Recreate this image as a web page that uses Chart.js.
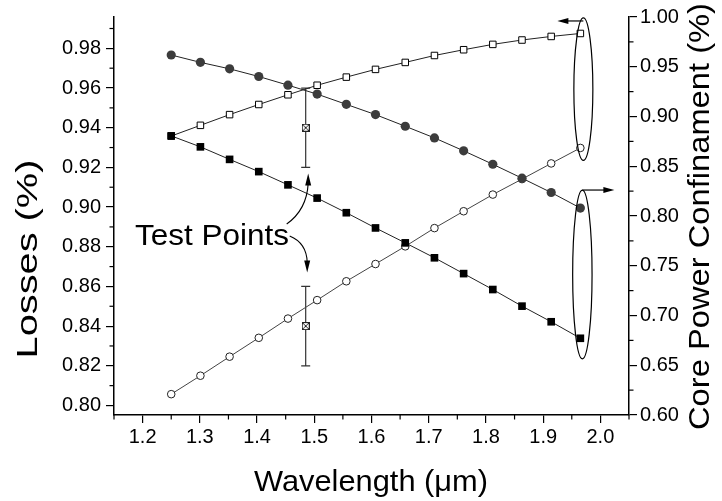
<!DOCTYPE html>
<html><head><meta charset="utf-8">
<script src="https://cdn.jsdelivr.net/npm/chart.js@4/dist/chart.umd.min.js"></script>
<style>html,body{margin:0;padding:0;background:#fff;}canvas{display:block}</style>
</head><body>
<canvas id="c" width="722" height="501"></canvas>
<script>
// ---- data ----
const wavelength = [1.250, 1.301, 1.352, 1.403, 1.454, 1.505, 1.556, 1.607, 1.659, 1.710, 1.761, 1.812, 1.863, 1.914, 1.965];
const lossesOpenSquares = [0.9358, 0.9412, 0.9466, 0.9517, 0.9566, 0.9614, 0.9655, 0.9694, 0.9729, 0.9764, 0.9793, 0.9820, 0.9842, 0.9860, 0.9875];
const lossesOpenCircles = [0.8057, 0.8150, 0.8246, 0.8341, 0.8438, 0.8531, 0.8626, 0.8713, 0.8802, 0.8894, 0.8979, 0.9063, 0.9141, 0.9220, 0.9298];
const coreFilledCircles = [0.9618, 0.9544, 0.9479, 0.9402, 0.9315, 0.9225, 0.9122, 0.9019, 0.8902, 0.8785, 0.8655, 0.8520, 0.8380, 0.8236, 0.8080];
const coreFilledSquares = [0.8805, 0.8695, 0.8569, 0.8446, 0.8313, 0.8180, 0.8033, 0.7880, 0.7730, 0.7580, 0.7421, 0.7261, 0.7094, 0.6937, 0.6771];
const testWavelength = [1.485, 1.485];
const testLosses = [0.94, 0.84];
const testError = [0.02, 0.02];
const xTickValues = [1.2, 1.3, 1.4, 1.5, 1.6, 1.7, 1.8, 1.9, 2.0];
const lossTickValues = [0.80, 0.82, 0.84, 0.86, 0.88, 0.90, 0.92, 0.94, 0.96, 0.98];
const coreTickValues = [0.60, 0.65, 0.70, 0.75, 0.80, 0.85, 0.90, 0.95, 1.00];
const xTitle = 'Wavelength (\u03bcm)';
const leftTitle = 'Losses (%)';
const rightTitle = 'Core Power Confinament (%)';
const annotationText = 'Test Points';

const FONT = "'Liberation Sans', Arial, sans-serif";
const pts = ys => ys.map((y, i) => ({x: wavelength[i], y}));

// marker for test points: square with an X
const tm = document.createElement('canvas');
tm.width = 8; tm.height = 8;
(function(){const c = tm.getContext('2d'); c.strokeStyle = '#222'; c.lineWidth = 1;
 c.fillStyle='#fff'; c.fillRect(0.5,0.5,7,7); c.strokeRect(0.5,0.5,7,7);
 c.beginPath(); c.moveTo(1,1); c.lineTo(7,7); c.moveTo(7,1); c.lineTo(1,7); c.stroke();})();

function minorValues(major, step, lo, hi){
  const out = [];
  const first = major[0] - step/2, last = major[major.length-1] + step/2;
  if (first >= lo - 1e-9) out.push(first);
  for (let i = 0; i < major.length - 1; i++) out.push((major[i] + major[i+1]) / 2);
  if (last <= hi + 1e-9) out.push(last);
  return out;
}

function stretchText(ctx, text, x, y, target, rotate, align){
  ctx.save();
  const w = ctx.measureText(text).width;
  ctx.translate(x, y);
  if (rotate) ctx.rotate(-Math.PI/2);
  ctx.scale(target / w, 1);
  ctx.textAlign = align || 'center';
  ctx.textBaseline = 'alphabetic';
  ctx.fillText(text, 0, 0);
  ctx.restore();
}
function head(ctx, tx, ty, dx, dy, len, hw){
  const L = Math.hypot(dx, dy); dx /= L; dy /= L;
  const bx = tx - dx*len, by = ty - dy*len;
  ctx.beginPath();
  ctx.moveTo(tx, ty);
  ctx.lineTo(bx - dy*hw, by + dx*hw);
  ctx.lineTo(bx + dy*hw, by - dx*hw);
  ctx.closePath(); ctx.fill();
}

const decor = {
  id: 'decor',
  beforeDatasetsDraw(chart){
    const ctx = chart.ctx, xs = chart.scales.x, yl = chart.scales.yL, yr = chart.scales.yR;
    ctx.save();
    ctx.strokeStyle = '#000'; ctx.lineWidth = 1.2;
    // minor ticks
    const drawMinor = (scale, vals, horiz, side) => {
      vals.forEach(v => {
        const p = scale.getPixelForValue(v);
        ctx.beginPath();
        if (horiz){ ctx.moveTo(p, chart.chartArea.bottom); ctx.lineTo(p, chart.chartArea.bottom + 4.5); }
        else if (side === 'l'){ ctx.moveTo(chart.chartArea.left, p); ctx.lineTo(chart.chartArea.left - 4.5, p); }
        else { ctx.moveTo(chart.chartArea.right, p); ctx.lineTo(chart.chartArea.right + 4.5, p); }
        ctx.stroke();
      });
    };
    drawMinor(xs, minorValues(xTickValues, 0.1, xs.min, xs.max), true);
    drawMinor(yl, minorValues(lossTickValues, 0.02, yl.min, yl.max), false, 'l');
    drawMinor(yr, minorValues(coreTickValues, 0.05, yr.min, yr.max), false, 'r');
    // error bars
    ctx.strokeStyle = '#333'; ctx.lineWidth = 1.2;
    testWavelength.forEach((wx, i) => {
      const px = xs.getPixelForValue(wx);
      const t = yl.getPixelForValue(testLosses[i] + testError[i]);
      const b = yl.getPixelForValue(testLosses[i] - testError[i]);
      ctx.beginPath();
      ctx.moveTo(px, t); ctx.lineTo(px, b);
      ctx.moveTo(px - 4.5, t); ctx.lineTo(px + 4.5, t);
      ctx.moveTo(px - 4.5, b); ctx.lineTo(px + 4.5, b);
      ctx.stroke();
    });
    ctx.restore();
  },
  afterDraw(chart){
    const ctx = chart.ctx, xs = chart.scales.x, yl = chart.scales.yL, yr = chart.scales.yR;
    const n = wavelength.length - 1;
    ctx.save();
    ctx.fillStyle = '#000'; ctx.strokeStyle = '#000';
    ctx.font = '29px ' + FONT;
    stretchText(ctx, xTitle, 371, 491, 234, false);
    stretchText(ctx, leftTitle, 37, 259, 199, true);
    stretchText(ctx, rightTitle, 709, 216.5, 427, true);
    ctx.font = '30px ' + FONT;
    stretchText(ctx, annotationText, 135, 245, 154, false, 'left');

    // ellipses around the last points
    const cx = xs.getPixelForValue(wavelength[n]) + 3;
    const t1 = yl.getPixelForValue(lossesOpenSquares[n]) - 15.5;
    const b1 = yl.getPixelForValue(lossesOpenCircles[n]) + 12.5;
    const t2 = yr.getPixelForValue(coreFilledCircles[n]) - 18;
    const b2 = yr.getPixelForValue(coreFilledSquares[n]) + 20.5;
    ctx.lineWidth = 1.2;
    ctx.beginPath(); ctx.ellipse(cx, (t1+b1)/2, 9.5, (b1-t1)/2, 0, 0, Math.PI*2); ctx.stroke();
    ctx.beginPath(); ctx.ellipse(cx - 1, (t2+b2)/2, 9.7, (b2-t2)/2, 0, 0, Math.PI*2); ctx.stroke();
    // axis pointer arrows
    ctx.beginPath(); ctx.moveTo(cx, t1 + 3); ctx.lineTo(cx - 20, t1 + 3); ctx.stroke();
    head(ctx, cx - 26, t1 + 3, -1, 0, 11, 3);
    ctx.beginPath(); ctx.moveTo(cx - 1, t2); ctx.lineTo(cx + 25, t2); ctx.stroke();
    head(ctx, cx + 31, t2, 1, 0, 11, 3);

    // curved arrows from "Test Points"
    const ex = xs.getPixelForValue(testWavelength[0]);
    const upTip = yl.getPixelForValue(testLosses[0] - testError[0]) + 6;
    const dnTip = yl.getPixelForValue(testLosses[1] + testError[1]) - 14;
    ctx.lineWidth = 1.1;
    ctx.beginPath(); ctx.moveTo(ex - 19, 224); ctx.quadraticCurveTo(ex + 1, 210, ex + 2.5, upTip + 10); ctx.stroke();
    head(ctx, ex + 2.5, upTip, 0, -1, 12, 3);
    ctx.beginPath(); ctx.moveTo(ex - 16, 236); ctx.quadraticCurveTo(ex + 1, 243, ex + 1.5, dnTip - 10); ctx.stroke();
    head(ctx, ex + 1.5, dnTip, 0, 1, 12, 3);
    ctx.restore();
  }
};

const tickFont = {family: FONT, size: 20};
new Chart(document.getElementById('c'), {
  type: 'line',
  data: {
    datasets: [
      {label: 'Test points', data: testWavelength.map((x, i) => ({x, y: testLosses[i]})), yAxisID: 'yL',
       showLine: false, pointStyle: tm, pointRadius: 4},
      {label: 'Core power (filled circles)', data: pts(coreFilledCircles), yAxisID: 'yR',
       borderColor: '#222', borderWidth: 1, pointStyle: 'circle', pointRadius: 4.6,
       pointBackgroundColor: '#3c3c3c', pointBorderColor: '#3c3c3c', pointBorderWidth: 0},
      {label: 'Core power (filled squares)', data: pts(coreFilledSquares), yAxisID: 'yR',
       borderColor: '#222', borderWidth: 1, pointStyle: 'rect', pointRadius: 5.4,
       pointBackgroundColor: '#000', pointBorderColor: '#000', pointBorderWidth: 0},
      {label: 'Losses (open squares)', data: pts(lossesOpenSquares), yAxisID: 'yL',
       borderColor: '#222', borderWidth: 1, pointStyle: 'rect', pointRadius: 4.6,
       pointBackgroundColor: '#fff', pointBorderColor: '#000', pointBorderWidth: 1},
      {label: 'Losses (open circles)', data: pts(lossesOpenCircles), yAxisID: 'yL',
       borderColor: '#444', borderWidth: 1, pointStyle: 'circle', pointRadius: 3.8,
       pointBackgroundColor: '#fff', pointBorderColor: '#222', pointBorderWidth: 1}
    ]
  },
  options: {
    responsive: false, animation: false,
    layout: {padding: {top: 15, left: 0, right: 0, bottom: 0}},
    plugins: {legend: {display: false}, tooltip: {enabled: false}},
    elements: {line: {tension: 0}},
    scales: {
      x: {type: 'linear', min: 1.15, max: 2.05,
        afterFit: s => { s.height = 86; },
        afterBuildTicks: s => { s.ticks = xTickValues.map(v => ({value: v})); },
        grid: {display: true, drawOnChartArea: false, drawTicks: true, tickLength: 8, color: '#000', lineWidth: 1.2},
        border: {display: true, color: '#000', width: 1.5},
        ticks: {font: tickFont, color: '#000', padding: 2, maxRotation: 0, callback: v => Number(v).toFixed(1)}},
      yL: {type: 'linear', position: 'left', min: 0.7952, max: 0.9958,
        afterFit: s => { s.width = 114; },
        afterBuildTicks: s => { s.ticks = lossTickValues.map(v => ({value: v})); },
        grid: {display: true, drawOnChartArea: false, drawTicks: true, tickLength: 8, color: '#000', lineWidth: 1.2},
        border: {display: true, color: '#000', width: 1.5},
        ticks: {font: tickFont, color: '#000', padding: 5, callback: v => Number(v).toFixed(2)}},
      yR: {type: 'linear', position: 'right', min: 0.60, max: 1.00,
        afterFit: s => { s.width = 93; },
        afterBuildTicks: s => { s.ticks = coreTickValues.map(v => ({value: v})); },
        grid: {display: true, drawOnChartArea: false, drawTicks: true, tickLength: 8, color: '#000', lineWidth: 1.2},
        border: {display: true, color: '#000', width: 1.5},
        ticks: {font: tickFont, color: '#000', padding: 3, callback: v => Number(v).toFixed(2)}}
    }
  },
  plugins: [decor]
});
</script>
</body></html>
